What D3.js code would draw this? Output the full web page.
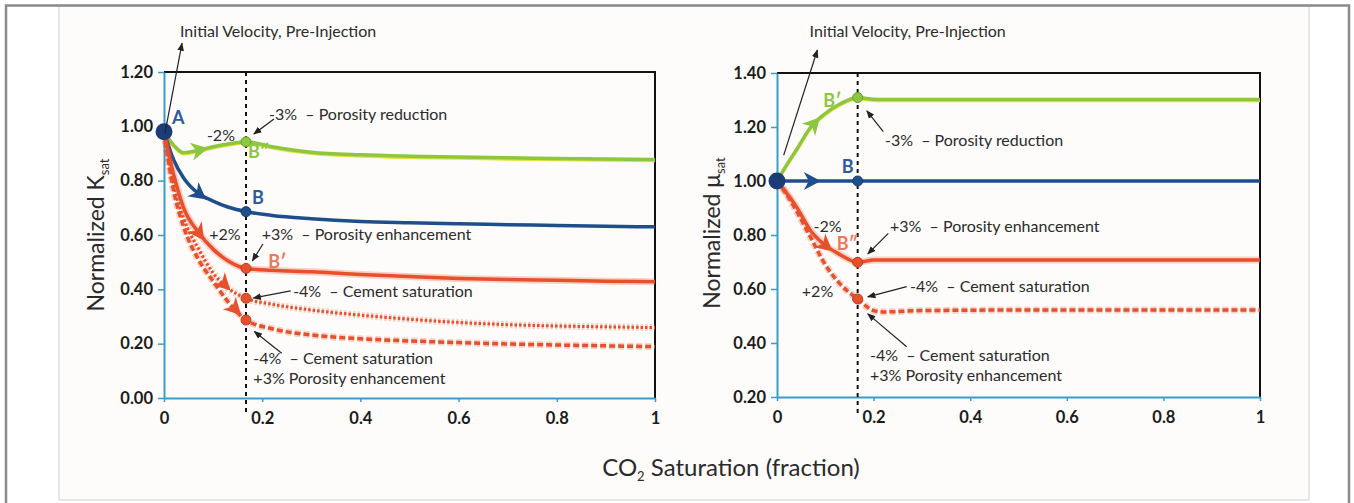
<!DOCTYPE html>
<html lang="en">
<head>
<meta charset="UTF-8">
<title>Normalized Ksat / mu_sat vs CO2 saturation</title>
<script src="https://d3js.org/d3.v7.min.js"></script>
<style>
  body { margin: 0; background: #fff; }
  text { font-family: Lato, "Liberation Sans", sans-serif; }
</style>
</head>
<body>
<svg id="chart" width="1354" height="503"></svg>
<script>
// ---- data: left panel, normalized K_sat ----
const kX      = [0, 0.02, 0.04, 0.07, 0.10, 0.13, 0.167, 0.22, 0.30, 0.40, 0.50, 0.60, 0.70, 0.80, 0.90, 1];
const kGreen  = [0.98, 0.93, 0.903, 0.912, 0.925, 0.935, 0.943, 0.925, 0.905, 0.895, 0.89, 0.887, 0.884, 0.882, 0.88, 0.878];
const kBlue   = [0.98, 0.875, 0.81, 0.753, 0.725, 0.703, 0.686, 0.672, 0.66, 0.65, 0.645, 0.641, 0.638, 0.635, 0.632, 0.63];
const kRed    = [0.98, 0.82, 0.70, 0.61, 0.548, 0.505, 0.477, 0.47, 0.465, 0.455, 0.447, 0.44, 0.436, 0.433, 0.43, 0.428];
const kDotted = [0.98, 0.78, 0.66, 0.55, 0.46, 0.405, 0.367, 0.345, 0.324, 0.305, 0.29, 0.278, 0.27, 0.265, 0.262, 0.259];
const kDashed = [0.98, 0.76, 0.63, 0.51, 0.43, 0.355, 0.287, 0.255, 0.232, 0.218, 0.21, 0.204, 0.199, 0.195, 0.192, 0.189];

// ---- data: right panel, normalized mu_sat ----
const muX      = [0, 0.02, 0.04, 0.07, 0.10, 0.13, 0.167, 0.20, 0.22, 0.30, 0.50, 0.75, 1];
const muGreen  = [1.0, 1.06, 1.115, 1.20, 1.25, 1.285, 1.309, 1.303, 1.302, 1.302, 1.302, 1.302, 1.302];
const muBlue   = [1.0, 1.0, 1.0, 1.0, 1.0, 1.0, 1.0, 1.0, 1.0, 1.0, 1.0, 1.0, 1.0];
const muRed    = [1.0, 0.955, 0.905, 0.815, 0.762, 0.728, 0.699, 0.707, 0.707, 0.707, 0.707, 0.707, 0.707];
const muDashed = [1.0, 0.95, 0.89, 0.79, 0.69, 0.62, 0.563, 0.52, 0.515, 0.52, 0.522, 0.522, 0.522];

const xTicks  = [0, 0.2, 0.4, 0.6, 0.8, 1];
const kTicks  = [0, 0.2, 0.4, 0.6, 0.8, 1.0, 1.2];
const muTicks = [0.2, 0.4, 0.6, 0.8, 1.0, 1.2, 1.4];
const injectX = 0.167;   // end of injection step (vertical dashed line)

const GREEN = "#8dc63f", BLUE = "#1f4e8c", RED = "#e8502c", TEAL = "#3a9dc9";

const svg = d3.select("#chart");

// page frame
svg.append("rect").attr("x", 59).attr("y", 6).attr("width", 1250).attr("height", 494)
   .attr("fill", "#fdfcfa").attr("stroke", "#d0d0d0").attr("stroke-width", 1);
svg.append("path").attr("d", "M6,503 V5.5 H1349 V503")
   .attr("fill", "none").attr("stroke", "#8a8a8a").attr("stroke-width", 2.5);

const defs = svg.append("defs");
defs.append("marker").attr("id", "ah").attr("viewBox", "0 0 10 10")
    .attr("refX", 9).attr("refY", 5).attr("markerWidth", 7).attr("markerHeight", 7)
    .attr("orient", "auto")
  .append("path").attr("d", "M0,1 L10,5 L0,9 Z").attr("fill", "#222");

function drawPanel(p) {
  const x = d3.scaleLinear().domain([0, 1]).range(p.xRange);
  const y = d3.scaleLinear().domain(p.yDomain).range(p.yRange);
  const g = svg.append("g");

  // plot frame: black top/right, teal left/bottom
  g.append("path")
   .attr("d", `M${x(0)},${y(p.yDomain[1])} H${x(1)} V${y(p.yDomain[0])}`)
   .attr("fill", "none").attr("stroke", "#111").attr("stroke-width", 2);

  const yAxis = g.append("g").attr("transform", `translate(${x(0)},0)`)
    .call(d3.axisLeft(y).tickValues(p.yTicks).tickFormat(d3.format(".2f"))
      .tickSize(6).tickSizeOuter(0).tickPadding(5));
  const xAxis = g.append("g").attr("transform", `translate(0,${y(p.yDomain[0])})`)
    .call(d3.axisBottom(x).tickValues(xTicks).tickFormat(d3.format(""))
      .tickSize(4).tickSizeOuter(0).tickPadding(10));
  [yAxis, xAxis].forEach(a => {
    a.select(".domain").attr("stroke", TEAL).attr("stroke-width", 2);
    a.selectAll(".tick line").attr("stroke", TEAL).attr("stroke-width", 1.5);
    a.selectAll(".tick text").attr("fill", "#1b1b1b")
      .style("font-size", "16.5px").style("font-weight", "700");
  });

  // injection line
  g.append("line")
   .attr("x1", x(injectX)).attr("x2", x(injectX))
   .attr("y1", y(p.yDomain[1])).attr("y2", y(p.yDomain[0]) + p.dashBelow)
   .attr("stroke", "#111").attr("stroke-width", 2).attr("stroke-dasharray", "4,4");

  const line = d3.line().x(d => x(d[0])).y(d => y(d[1])).curve(d3.curveMonotoneX);

  p.series.forEach(s => {
    const pts = p.xs.map((v, i) => [v, s.values[i]]);
    if (s.halo) {
      g.append("path").attr("d", line(pts)).attr("fill", "none")
       .attr("stroke", s.halo).attr("stroke-width", 7).attr("stroke-opacity", 0.25)
       .attr("stroke-dasharray", s.dash || null);
    }
    if (s.under) {
      g.append("path").attr("d", line(pts)).attr("fill", "none")
       .attr("transform", "translate(0,1.3)")
       .attr("stroke", s.under).attr("stroke-width", 3);
    }
    g.append("path").attr("d", line(pts)).attr("fill", "none")
     .attr("stroke", s.color).attr("stroke-width", s.width || 3.5)
     .attr("stroke-dasharray", s.dash || null);

    // direction arrowhead on the curve
    if (s.arrowAt != null) {
      const f = d3.scaleLinear().domain(p.xs).range(s.values);
      const ax = s.arrowAt;
      const x0 = x(ax - 0.01), y0 = y(f(Math.max(0, ax - 0.01)));
      const x1 = x(ax + 0.01), y1 = y(f(ax + 0.01));
      const ang = Math.atan2(y1 - y0, x1 - x0) * 180 / Math.PI;
      g.append("path").attr("d", "M10,0 L-7,-9 L-2,0 L-7,9 Z")
       .attr("transform", `translate(${x(ax)},${y(f(ax))}) rotate(${ang})`)
       .attr("fill", s.color);
    }
    // state point at end of injection
    const idx = p.xs.indexOf(injectX);
    g.append("circle").attr("cx", x(injectX)).attr("cy", y(s.values[idx]))
     .attr("r", 5).attr("fill", s.color)
     .attr("stroke", d3.color(s.color).darker(0.7)).attr("stroke-width", 1);
  });

  // initial state A
  g.append("circle").attr("cx", x(0)).attr("cy", y(p.series[1].values[0]))
   .attr("r", 8.5).attr("fill", "#1c3c78");

  // annotation arrows and texts
  p.arrows.forEach(a => {
    g.append("line")
     .attr("x1", x(a[0])).attr("y1", y(a[1])).attr("x2", x(a[2])).attr("y2", y(a[3]))
     .attr("stroke", "#222").attr("stroke-width", 1.2).attr("marker-end", "url(#ah)");
  });
  p.notes.forEach(n => {
    g.append("text").attr("x", x(n.x)).attr("y", y(n.y))
     .attr("text-anchor", n.anchor || "start")
     .attr("fill", n.color || "#2b2b2b")
     .style("font-size", (n.size || 16) + "px")
     .style("font-weight", n.bold ? "700" : "400")
     .text(n.t);
  });

  // y-axis title
  const yt = g.append("text")
    .attr("transform", `translate(${p.yTitleX},${p.yTitleY}) rotate(-90)`)
    .attr("text-anchor", "middle").attr("fill", "#2a2a2a").style("font-size", "23px");
  yt.append("tspan").text(p.yTitle);
  yt.append("tspan").attr("dy", 5).style("font-size", "13px").text("sat");
}

const sp = "\u00a0";

drawPanel({
  xRange: [164, 655], yDomain: [0, 1.2], yRange: [398, 72], yTicks: kTicks,
  xs: kX, dashBelow: 17,
  yTitle: "Normalized K", yTitleX: 104, yTitleY: 235,
  series: [
    { values: kGreen,  color: GREEN, arrowAt: 0.07, under: "#e4e33c" },
    { values: kBlue,   color: BLUE,  arrowAt: 0.07 },
    { values: kRed,    color: RED,   arrowAt: 0.07, halo: RED },
    { values: kDotted, color: RED,   arrowAt: 0.121, dash: "2.5,2", halo: RED, width: 3 },
    { values: kDashed, color: RED,   arrowAt: 0.143, dash: "6,3", halo: RED, width: 3.5 }
  ],
  arrows: [
    [0.002, 0.975, 0.0367, 1.306],
    [0.224, 1.027, 0.183, 0.972],
    [0.2016, 0.567, 0.18, 0.505],
    [0.258, 0.394, 0.182, 0.368],
    [0.2397, 0.1645, 0.184, 0.245]
  ],
  notes: [
    { t: "Initial Velocity, Pre-Injection", x: 0.0326, y: 1.329 },
    { t: "A", x: 0.0163, y: 1.009, bold: true, color: "#2d5a9e", size: 18 },
    { t: "-2%", x: 0.116, y: 0.946, anchor: "middle" },
    { t: "-3%" + sp + " – Porosity reduction", x: 0.214, y: 1.023 },
    { t: "B\u2033", x: 0.171, y: 0.885, bold: true, color: GREEN, size: 18 },
    { t: "B", x: 0.179, y: 0.714, bold: true, color: "#2d5a9e", size: 18 },
    { t: "+2%", x: 0.124, y: 0.58, anchor: "middle" },
    { t: "+3%" + sp + " – Porosity enhancement", x: 0.199, y: 0.58 },
    { t: "B\u2032", x: 0.2125, y: 0.48, bold: true, color: "#f0785a", size: 18 },
    { t: "-4%" + sp + " – Cement saturation", x: 0.263, y: 0.372 },
    { t: "-4%" + sp + " – Cement saturation", x: 0.182, y: 0.125 },
    { t: "+3% Porosity enhancement", x: 0.182, y: 0.0515 }
  ]
});

drawPanel({
  xRange: [777, 1260], yDomain: [0.2, 1.4], yRange: [397, 73], yTicks: muTicks,
  xs: muX, dashBelow: 16,
  yTitle: "Normalized \u03bc", yTitleX: 720, yTitleY: 233,
  series: [
    { values: muGreen,  color: GREEN, arrowAt: 0.075, under: "#e4e33c" },
    { values: muBlue,   color: BLUE,  arrowAt: 0.07 },
    { values: muDashed, color: RED,   dash: "6,3", halo: RED, width: 3.5 },
    { values: muRed,    color: RED,   arrowAt: 0.099, halo: RED }
  ],
  arrows: [
    [0.0139, 1.096, 0.0836, 1.485],
    [0.220, 1.183, 0.186, 1.26],
    [0.2305, 0.806, 0.188, 0.73],
    [0.2685, 0.6085, 0.188, 0.571],
    [0.2685, 0.386, 0.188, 0.508]
  ],
  notes: [
    { t: "Initial Velocity, Pre-Injection", x: 0.0675, y: 1.533 },
    { t: "B\u2032", x: 0.0959, y: 1.274, bold: true, color: GREEN, size: 18 },
    { t: "-3%" + sp + " – Porosity reduction", x: 0.2236, y: 1.131 },
    { t: "B", x: 0.134, y: 1.031, bold: true, color: "#2d5a9e", size: 18 },
    { t: "-2%", x: 0.1046, y: 0.811, anchor: "middle" },
    { t: "+3%" + sp + " – Porosity enhancement", x: 0.234, y: 0.811 },
    { t: "B\u2033", x: 0.1236, y: 0.7426, bold: true, color: "#f0785a", size: 18 },
    { t: "+2%", x: 0.0839, y: 0.57, anchor: "middle" },
    { t: "-4%" + sp + " – Cement saturation", x: 0.2754, y: 0.589 },
    { t: "-4%" + sp + " – Cement saturation", x: 0.1925, y: 0.335 },
    { t: "+3% Porosity enhancement", x: 0.1925, y: 0.261 }
  ]
});

// shared x-axis title
const xt = svg.append("text").attr("x", 731).attr("y", 476).attr("text-anchor", "middle")
  .attr("fill", "#2a2a2a").style("font-size", "24px");
xt.append("tspan").text("CO");
xt.append("tspan").attr("dy", 5).style("font-size", "13px").text("2");
xt.append("tspan").attr("dy", -5).text(" Saturation (fraction)");
</script>
</body>
</html>
